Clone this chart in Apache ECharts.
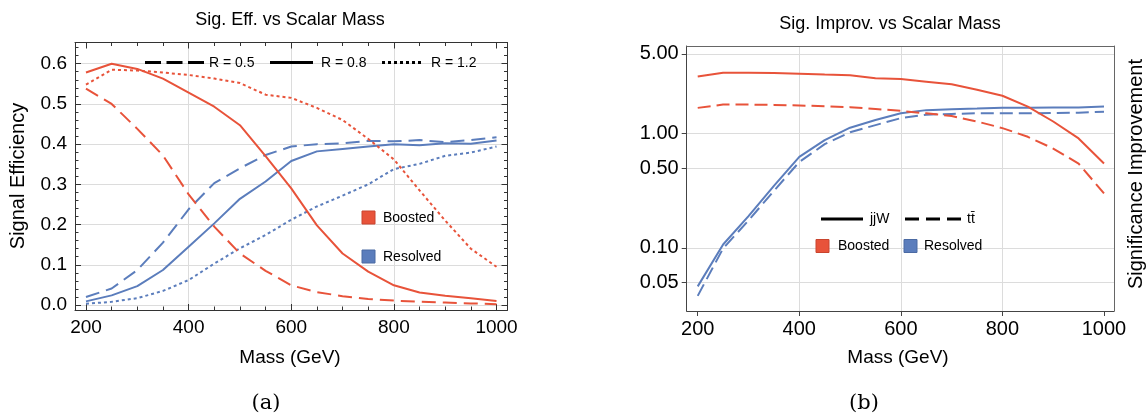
<!DOCTYPE html>
<html>
<head>
<meta charset="utf-8">
<script src="https://cdn.jsdelivr.net/npm/echarts@6/dist/echarts.min.js"></script>
<style>html,body{margin:0;padding:0;background:#fff;}#c{width:1148px;height:418px;}</style>
</head>
<body>
<div id="c"></div>
<script>
// ---------- data ----------
const mass = [200,250,300,350,400,450,500,550,600,650,700,750,800,850,900,950,1000];

// (a) signal efficiency
const effBoostR05 = [0.538,0.500,0.438,0.372,0.275,0.195,0.128,0.085,0.049,0.032,0.022,0.015,0.011,0.008,0.006,0.004,0.002];
const effBoostR08 = [0.578,0.600,0.587,0.563,0.528,0.493,0.447,0.370,0.290,0.198,0.128,0.083,0.049,0.031,0.023,0.017,0.010];
const effBoostR12 = [0.548,0.585,0.583,0.578,0.572,0.563,0.552,0.523,0.515,0.490,0.460,0.413,0.362,0.285,0.210,0.140,0.095];
const effResR05   = [0.020,0.041,0.087,0.155,0.238,0.303,0.340,0.373,0.394,0.400,0.402,0.408,0.407,0.410,0.405,0.410,0.417];
const effResR08   = [0.009,0.024,0.047,0.087,0.145,0.203,0.264,0.307,0.358,0.382,0.388,0.394,0.400,0.397,0.402,0.401,0.409];
const effResR12   = [0.003,0.008,0.017,0.035,0.062,0.103,0.141,0.174,0.212,0.245,0.272,0.300,0.338,0.351,0.371,0.379,0.394];

// (b) significance improvement
const sigBoostJjw = [3.18,3.43,3.43,3.40,3.36,3.30,3.25,3.06,3.01,2.86,2.71,2.43,2.15,1.73,1.28,0.91,0.548];
const sigBoostTt  = [1.685,1.80,1.80,1.79,1.77,1.74,1.71,1.65,1.585,1.51,1.43,1.28,1.12,0.94,0.742,0.548,0.30];
const sigResJjw   = [0.046,0.107,0.19,0.35,0.627,0.88,1.13,1.32,1.51,1.61,1.64,1.66,1.69,1.69,1.70,1.70,1.73];
const sigResTt    = [0.038,0.099,0.174,0.316,0.566,0.81,1.03,1.19,1.37,1.47,1.49,1.51,1.51,1.51,1.52,1.53,1.56];

// tick labels
const massTicks = [200,400,600,800,1000];
const massGrid = [400,600,800];
const effTicks = [0,0.1,0.2,0.3,0.4,0.5,0.6];
const sigTicks = [0.05,0.1,0.5,1,5];

// ---------- styling ----------
const RED = '#e8533a', BLUE = '#5b7dbc';
const FONT = '"Liberation Sans", Arial, sans-serif';
const FRAME = '#333', GRIDC = '#dcdcdc';

const massMinor = []; for (let m = 250; m <= 1000; m += 50) if (m % 200 !== 0) massMinor.push(m);
const effMinor = []; for (let k = 1; k <= 32; k++) if (k % 5 !== 0) effMinor.push(+(k * 0.02).toFixed(2));

const pairs = arr => mass.map((m, i) => [m, arr[i]]);

function frameAxis(o) {
  return Object.assign({
    type: 'value', axisLine: {show: false, onZero: false},
    axisTick: {show: false}, axisLabel: {show: false}, splitLine: {show: false}
  }, o);
}

const L = {min: 178.6, max: 1021.4};
const LY = {min: -0.0124, max: 0.6527};
const R = {min: 178.3, max: 1019.7};
const RY = {min: 0.028, max: 5.87};
const massFmt = v => String(Math.round(+v));

const xAxes = [
  // grid 0 (a)
  frameAxis(Object.assign({gridIndex: 0, position: 'bottom',
    axisLine: {show: true, onZero: false, lineStyle: {color: FRAME, width: 1}},
    axisTick: {show: true, inside: true, length: 6, customValues: massTicks, lineStyle: {color: FRAME}},
    axisLabel: {show: true, customValues: massTicks, formatter: massFmt, fontSize: 19, fontFamily: FONT, color: '#000', margin: 8}}, L)),
  frameAxis(Object.assign({gridIndex: 0, position: 'bottom',
    axisTick: {show: true, inside: true, length: 3.5, customValues: massMinor, lineStyle: {color: FRAME}}}, L)),
  frameAxis(Object.assign({gridIndex: 0, position: 'top',
    axisLine: {show: true, onZero: false, lineStyle: {color: FRAME, width: 1}},
    axisTick: {show: true, inside: true, length: 6, customValues: massTicks, lineStyle: {color: FRAME}}}, L)),
  frameAxis(Object.assign({gridIndex: 0, position: 'top',
    axisTick: {show: true, inside: true, length: 3.5, customValues: massMinor, lineStyle: {color: FRAME}}}, L)),
  frameAxis(Object.assign({gridIndex: 0, position: 'bottom',
    axisTick: {show: false, customValues: massGrid},
    splitLine: {show: true, lineStyle: {color: GRIDC, width: 1}}}, L)),
  // grid 1 (b)
  frameAxis(Object.assign({gridIndex: 1, position: 'bottom',
    axisLine: {show: true, onZero: false, lineStyle: {color: '#444', width: 1}},
    axisTick: {show: true, inside: false, length: 5, customValues: massTicks, lineStyle: {color: '#444'}},
    axisLabel: {show: true, customValues: massTicks, formatter: massFmt, fontSize: 20, fontFamily: FONT, color: '#000', margin: 8}}, R)),
  frameAxis(Object.assign({gridIndex: 1, position: 'top',
    axisLine: {show: true, onZero: false, lineStyle: {color: '#666', width: 1}},
    axisTick: {show: false, customValues: massGrid},
    splitLine: {show: true, lineStyle: {color: GRIDC, width: 1}}}, R))
];

const yAxes = [
  frameAxis(Object.assign({gridIndex: 0, position: 'left',
    axisLine: {show: true, onZero: false, lineStyle: {color: FRAME, width: 1}},
    axisTick: {show: true, inside: true, length: 6, customValues: effTicks, lineStyle: {color: FRAME}},
    axisLabel: {show: true, customValues: effTicks, formatter: v => (+v).toFixed(1), fontSize: 19, fontFamily: FONT, color: '#000', margin: 8}}, LY)),
  frameAxis(Object.assign({gridIndex: 0, position: 'left',
    axisTick: {show: true, inside: true, length: 3.5, customValues: effMinor, lineStyle: {color: FRAME}}}, LY)),
  frameAxis(Object.assign({gridIndex: 0, position: 'right',
    axisLine: {show: true, onZero: false, lineStyle: {color: FRAME, width: 1}},
    axisTick: {show: true, inside: true, length: 6, customValues: effTicks, lineStyle: {color: FRAME}}}, LY)),
  frameAxis(Object.assign({gridIndex: 0, position: 'right',
    axisTick: {show: true, inside: true, length: 3.5, customValues: effMinor, lineStyle: {color: FRAME}}}, LY)),
  frameAxis(Object.assign({gridIndex: 0, position: 'left',
    axisTick: {show: false, customValues: effTicks},
    splitLine: {show: true, lineStyle: {color: GRIDC, width: 1}}}, LY)),
  // grid 1 log
  frameAxis(Object.assign({gridIndex: 1, type: 'log', logBase: 10, position: 'left',
    axisLine: {show: true, onZero: false, lineStyle: {color: '#444', width: 1}},
    axisTick: {show: true, inside: false, length: 5, customValues: sigTicks, lineStyle: {color: '#444'}},
    axisLabel: {show: true, customValues: sigTicks, formatter: v => (+v).toFixed(2), fontSize: 20, fontFamily: FONT, color: '#000', margin: 8}}, RY)),
  frameAxis(Object.assign({gridIndex: 1, type: 'log', logBase: 10, position: 'right',
    axisLine: {show: true, onZero: false, lineStyle: {color: '#666', width: 1}},
    axisTick: {show: false, customValues: sigTicks},
    splitLine: {show: true, lineStyle: {color: GRIDC, width: 1}}}, RY))
];

function line(data, xi, yi, color, type) {
  return {type: 'line', xAxisIndex: xi, yAxisIndex: yi, data: pairs(data), symbol: 'none', showSymbol: false,
    smooth: false, animation: false, silent: true,
    lineStyle: {color: color, width: 2, type: type}};
}
const DASH = [14, 7], DOT = [3, 3];

const series = [
  line(effResR12, 0, 0, BLUE, DOT),
  line(effResR05, 0, 0, BLUE, DASH),
  line(effResR08, 0, 0, BLUE, 'solid'),
  line(effBoostR12, 0, 0, RED, DOT),
  line(effBoostR05, 0, 0, RED, DASH),
  line(effBoostR08, 0, 0, RED, 'solid'),
  line(sigResTt, 5, 5, BLUE, [13, 6]),
  line(sigResJjw, 5, 5, BLUE, 'solid'),
  line(sigBoostTt, 5, 5, RED, [13, 6]),
  line(sigBoostJjw, 5, 5, RED, 'solid')
];

function txt(x, y, s, size, extra) {
  return Object.assign({type: 'text', x: x, y: y, silent: true, z: 100,
    style: {text: s, fill: '#000', font: size + 'px ' + FONT, textAlign: 'center', textVerticalAlign: 'middle'}}, extra || {});
}
function seg(x1, x2, y, dash, w) {
  return {type: 'line', silent: true, z: 100, shape: {x1: x1, y1: y, x2: x2, y2: y},
    style: {stroke: '#000', lineWidth: w || 3, lineDash: dash || null}};
}
function sw(x, y, c) {
  return {type: 'rect', silent: true, z: 100, shape: {x: x, y: y, width: 13, height: 13},
    style: {fill: c, stroke: c === RED ? '#c9442e' : '#4b6aa3', lineWidth: 1}};
}
function lt(x, y, s) {
  return txt(x, y, s, 14, {style: {text: s, fill: '#000', font: '14px ' + FONT, textAlign: 'left', textVerticalAlign: 'middle'}});
}

const graphics = [
  txt(290, 20, 'Sig. Eff. vs Scalar Mass', 18),
  txt(890, 24, 'Sig. Improv. vs Scalar Mass', 18),
  txt(18, 176, 'Signal Efficiency', 20, {rotation: Math.PI / 2}),
  txt(1136, 174, 'Significance Improvement', 20, {rotation: Math.PI / 2}),
  txt(290, 358, 'Mass (GeV)', 19),
  txt(898, 358, 'Mass (GeV)', 19),
  {type: 'text', x: 266, y: 404, silent: true, style: {text: '(a)', fill: '#000', font: '21px "DejaVu Serif", serif', textAlign: 'center', textVerticalAlign: 'middle'}},
  {type: 'text', x: 864, y: 404, silent: true, style: {text: '(b)', fill: '#000', font: '21px "DejaVu Serif", serif', textAlign: 'center', textVerticalAlign: 'middle'}},
  // (a) legends
  seg(145, 204, 62.5, [16, 5.5]), lt(209, 63, 'R = 0.5'),
  seg(270, 313, 62.5), lt(321, 63, 'R = 0.8'),
  seg(382, 422, 62.5, [3, 3]), lt(431, 63, 'R = 1.2'),
  sw(362, 211, RED), lt(383, 218, 'Boosted'),
  sw(362, 250, BLUE), lt(383, 257, 'Resolved'),
  // (b) legends
  seg(821, 863, 219), lt(870, 219, 'jjW'),
  seg(905, 962, 219, [14, 7]), lt(967, 219, 'tt\u0304'),
  sw(816, 239.5, RED), lt(838, 246, 'Boosted'),
  sw(904, 239.5, BLUE), lt(924, 246, 'Resolved')
];

const chart = echarts.init(document.getElementById('c'), null, {renderer: 'canvas'});
chart.setOption({
  animation: false,
  backgroundColor: '#fff',
  grid: [
    {left: 75, top: 42.5, width: 432.5, height: 267.5, containLabel: false},
    {left: 686.7, top: 46, width: 427.3, height: 265, containLabel: false}
  ],
  xAxis: xAxes,
  yAxis: yAxes,
  series: series,
  graphic: graphics
});
</script>
</body>
</html>
